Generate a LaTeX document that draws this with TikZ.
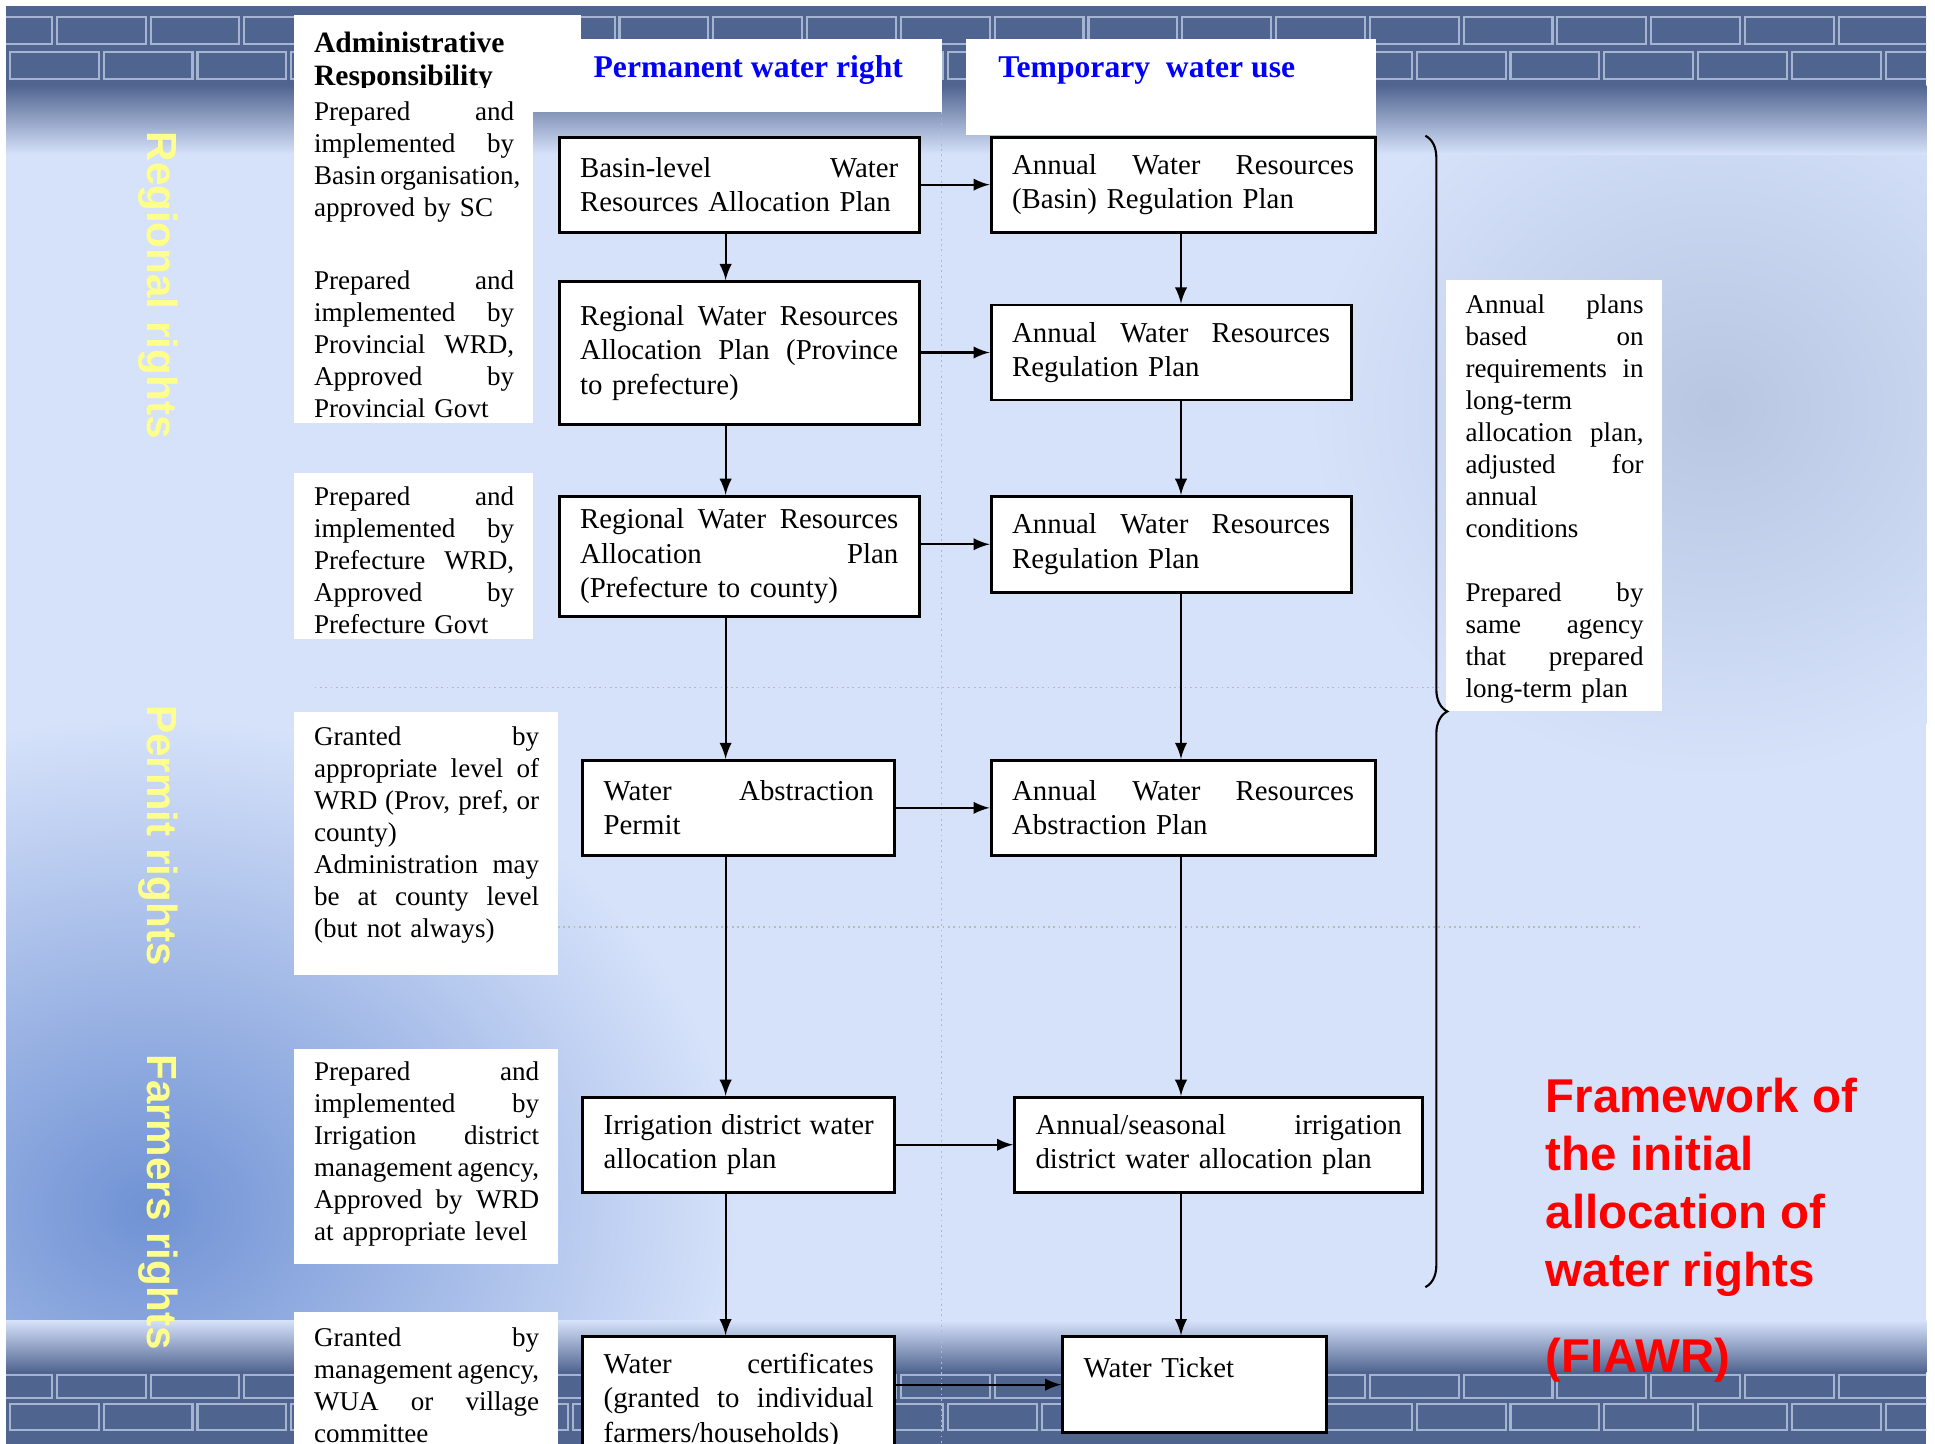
\documentclass[tikz,border=0pt]{standalone}
\usepackage{fontspec}
\setmainfont{Liberation Serif}
\setsansfont{Liberation Sans}
\usetikzlibrary{decorations.pathreplacing}

\definecolor{bgblue}{RGB}{214,226,250}
\definecolor{brick}{RGB}{80,100,144}
\definecolor{mortar}{RGB}{165,180,208}
\definecolor{cloud}{RGB}{112,146,212}
\definecolor{haze}{RGB}{184,198,226}
\definecolor{rightsyellow}{RGB}{255,255,140}
\definecolor{headblue}{RGB}{0,0,255}

% one line of justified text
\newcommand{\spread}[1]{\makebox[\hsize][s]{\spaceskip=0pt\xspaceskip=0pt #1}}

\begin{document}
\begin{tikzpicture}[x=0.1234mm, y=-0.1234mm, >=latex,
  flow/.style={draw, line width=0.8pt, fill=white, anchor=north west, inner xsep=2.1mm,
    align=left, font=\fontsize{8.2}{9.8}\selectfont},
  note/.style={anchor=north west, inner sep=0pt, align=left, font=\fontsize{7.7}{9.1}\selectfont},
  rights/.style={rotate=-90, text=rightsyellow, font=\sffamily\bfseries\fontsize{12}{14}\selectfont},
  colhead/.style={anchor=west, text=headblue, font=\bfseries\fontsize{9}{11}\selectfont},
  link/.style={->, line width=0.6pt},
  guide/.style={densely dotted, gray!55, line width=0.5pt}]

\def \lcolx {588}
\def \rcolx {957}

\useasboundingbox (0,0) rectangle (1568,1170);
\fill[white] (0,0) rectangle (1568,1170);

% background with brick bands
\begin{scope}
  \clip (5,5) rectangle (1561,1170);
  \fill[bgblue] (5,5) rectangle (1561,1170);
  \shade[inner color=haze, outer color=bgblue] (1390,330) ellipse [x radius=330, y radius=300];
  \shade[inner color=cloud, outer color=bgblue] (120,980) ellipse [x radius=480, y radius=400];
  \fill[brick] (5,5) rectangle (1561,70);
  \shade[top color=brick, bottom color=bgblue] (5,69) rectangle (1561,125);
  \shade[top color=bgblue, bottom color=brick] (5,1070) rectangle (1561,1112);
  \fill[brick] (5,1111) rectangle (1561,1170);
  \foreach \x in {-30,46,...,1560}
  {
    \draw[mortar, line width=0.6pt] (\x,14) rectangle ++(72,22);
    \draw[mortar, line width=0.6pt] (\x+38,42) rectangle ++(72,22);
    \draw[mortar, line width=0.6pt] (\x,1114) rectangle ++(72,19);
    \draw[mortar, line width=0.6pt] (\x+38,1138) rectangle ++(72,21);
  }
\end{scope}

\draw[guide] (763,91) -- (763,1170);
\draw[guide] (255,557) -- (1168,557);
\draw[guide] (452,751) -- (1330,751);

% white panels
\fill[white] (238,12) rectangle (471,75);
\fill[white] (238,12) rectangle (432,343);
\fill[white] (432,32) rectangle (763,91);
\fill[white] (783,32) rectangle (1115,109);
\fill[white] (238,383) rectangle (432,518);
\fill[white] (238,577) rectangle (452,790);
\fill[white] (238,850) rectangle (452,1024);
\fill[white] (238,1063) rectangle (452,1175);
\fill[white] (1172,227) rectangle (1347,576);

\begin{scope}
  \clip (238,12) rectangle (471,71);
  \node[note, font=\bfseries\fontsize{8.4}{9.5}\selectfont] (admin) at (254,25) {Administrative\\Responsibility};
\end{scope}
\node[colhead] (permanent) at (471,57) {Permanent water right};
\node[colhead] (temporary) at (799,57) {Temporary\ \ water use};

\node[rights] (regionalrights) at (128,231) {Regional rights};
\node[rights] (permitrights) at (128,677) {Permit rights};
\node[rights] (farmersrights) at (128,974) {Farmers rights};

% who does what
\node[note, text width=20mm] (basinnote) at (254,82)
  {\spread{Prepared and}\\ \spread{implemented by}\\ \spread{Basin organisation,}\\ approved by SC\\[4.1mm]
   \spread{Prepared and}\\ \spread{implemented by}\\ \spread{Provincial WRD,}\\ \spread{Approved by}\\ Provincial Govt};
\node[note, text width=20mm] (prefnote) at (254,394)
  {\spread{Prepared and}\\ \spread{implemented by}\\ \spread{Prefecture WRD,}\\ \spread{Approved by}\\ Prefecture Govt};
\node[note, text width=22.5mm] (permitnote) at (254,588)
  {\spread{Granted by}\\ \spread{appropriate level of}\\ \spread{WRD (Prov, pref, or}\\ county)\\
   \spread{Administration may}\\ \spread{be at county level}\\ (but not always)};
\node[note, text width=22.5mm] (irrnote) at (254,860)
  {\spread{Prepared and}\\ \spread{implemented by}\\ \spread{Irrigation district}\\ \spread{management agency,}\\
   \spread{Approved by WRD}\\ at appropriate level};
\node[note, text width=22.5mm] (certnote) at (254,1075)
  {\spread{Granted by}\\ \spread{management agency,}\\ \spread{WUA or village}\\ committee};

% permanent water right
\node[flow, text width=31.8mm, minimum height=9.5mm] (basinplan) at (452,110)
  {\spread{Basin-level Water}\\Resources Allocation Plan};
\node[flow, text width=31.8mm, minimum height=14.3mm] (provplan) at (452,227)
  {\spread{Regional Water Resources}\\ \spread{Allocation Plan (Province}\\to prefecture)};
\node[flow, text width=31.8mm, minimum height=12mm] (prefplan) at (452,401)
  {\spread{Regional Water Resources}\\ \spread{Allocation Plan}\\(Prefecture to county)};
\node[flow, text width=27mm, minimum height=9.5mm] (abspermit) at (471,615)
  {\spread{Water Abstraction}\\Permit};
\node[flow, text width=27mm, minimum height=9.5mm] (irrplan) at (471,888)
  {\spread{Irrigation district water}\\allocation plan};
\node[flow, text width=27mm, minimum height=12.8mm] (certs) at (471,1082)
  {\spread{Water certificates}\\ \spread{(granted to individual}\\farmers/households)};

% temporary water use
\node[flow, text width=34.2mm, minimum height=9.5mm] (basinreg) at (802,110)
  {\spread{Annual Water Resources}\\(Basin) Regulation Plan};
\node[flow, text width=31.8mm, minimum height=9.5mm] (provreg) at (802,246)
  {\spread{Annual Water Resources}\\Regulation Plan};
\node[flow, text width=31.8mm, minimum height=9.6mm] (prefreg) at (802,401)
  {\spread{Annual Water Resources}\\Regulation Plan};
\node[flow, text width=34.2mm, minimum height=9.5mm] (absplan) at (802,615)
  {\spread{Annual Water Resources}\\Abstraction Plan};
\node[flow, text width=36.6mm, minimum height=9.5mm] (irrseason) at (821,888)
  {\spread{Annual/seasonal irrigation}\\district water allocation plan};
\node[flow, text width=22.2mm, minimum height=9.6mm] (ticket) at (860,1082)
  {Water Ticket\\ \mbox{}};

\coordinate (lcol) at (\lcolx,0);
\coordinate (rcol) at (\rcolx,0);

\foreach \a/\b in {basinplan/provplan, provplan/prefplan, prefplan/abspermit, abspermit/irrplan, irrplan/certs}
  \draw[link] (\a.south -| lcol) -- (\b.north -| lcol);
\foreach \a/\b in {basinreg/provreg, provreg/prefreg, prefreg/absplan, absplan/irrseason, irrseason/ticket}
  \draw[link] (\a.south -| rcol) -- (\b.north -| rcol);
\foreach \a/\b in {basinplan/basinreg, provplan/provreg, prefplan/prefreg, abspermit/absplan, irrplan/irrseason, certs/ticket}
  \draw[link] (\a.east |- \b.west) -- (\b.west);

% brace over the annual plans
\coordinate (bracetop) at (1155,110);
\coordinate (bracebot) at (1155,1043);
\draw[decorate, decoration={brace, amplitude=2.2mm}, line width=0.6pt] (bracetop) -- (bracebot);

\node[note, text width=17.8mm] (annualnote) at (1187,238)
  {\spread{Annual plans}\\ \spread{based on}\\ \spread{requirements in}\\ long-term\\ \spread{allocation plan,}\\
   \spread{adjusted for}\\ annual\\ conditions\\[3.2mm]
   \spread{Prepared by}\\ \spread{same agency}\\ \spread{that prepared}\\ long-term plan};

\node[anchor=north west, inner sep=0pt, align=left, text=red,
  font=\sffamily\bfseries\fontsize{13.5}{16.5}\selectfont] (title) at (1252,873)
  {Framework of\\the initial\\allocation of\\water rights\\[2.8mm](FIAWR)};

\end{tikzpicture}
\end{document}
